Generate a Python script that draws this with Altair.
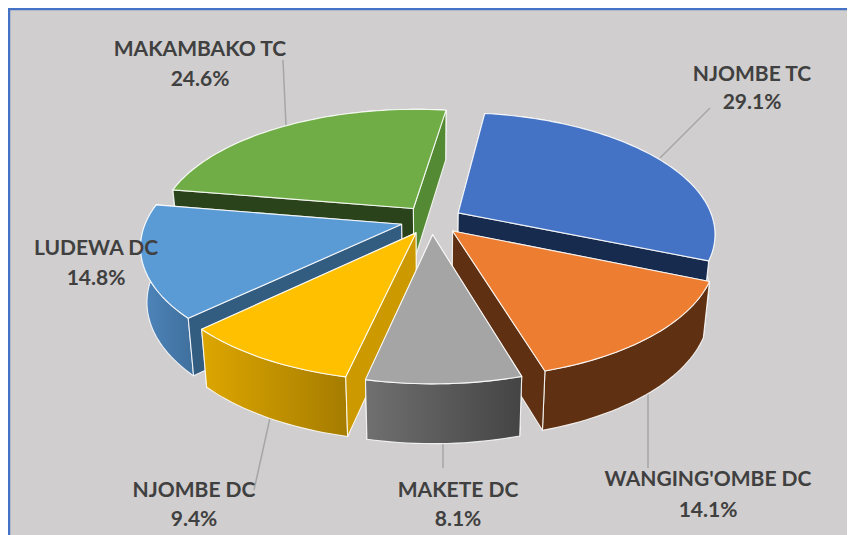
import math
import altair as alt
import pandas as pd

# ---- data ----
names = ["NJOMBE TC", "WANGING'OMBE DC", "MAKETE DC", "NJOMBE DC", "LUDEWA DC", "MAKAMBAKO TC"]
shares = [29.1, 14.1, 8.1, 9.4, 14.8, 24.6]
top_colors = ["#4472C4", "#ED7D31", "#A5A5A5", "#FFC000", "#5B9BD5", "#70AD47"]
outer_from = ["#3B64AC", "#5F3112", "#707070", "#DDA600", "#4F86BD", "#5C9238"]
outer_to = ["#2F5597", "#5F3112", "#444444", "#A57C00", "#3F6F9C", "#4A7A2C"]
start_wall = ["#172B4F", "#5F3112", "#5A5A5A", "#CC9A00", "#335C81", "#2B431A"]
end_wall = ["#172B4F", "#5F3112", "#5A5A5A", "#CC9A00", "#335C81", "#548A34"]

label_x = [752, 708, 458, 194, 96, 200]
label_y1 = [75, 480, 491, 491, 249, 50]
label_y2 = [103, 511, 520, 520, 279, 80]

leader_x1 = [710, 648, 443, 270, 283]
leader_y1 = [108, 392, 441, 418, 60]
leader_x2 = [660, 648, 443, 254, 286]
leader_y2 = [158, 468, 468, 490, 126]

# ---- 3-D pie layout (page pixels) ----
OFF = 8
CX, CY = 431.5 - OFF, 220 - OFF
A, B, K = 255, 119, 0.165
EXPLODE, DEPTH, SHRINK = 0.122, 54, 0.022
THETA0 = 8.0
STEP = 1.5


def project(u, v):
    p = 1 / (1 - K * v)
    return CX + A * u * p, CY + B * v * p, p


def down(pt_uv):
    x, y, p = project(*pt_uv)
    return CX + (x - CX) * (1 - SHRINK), y + DEPTH * math.sqrt(p)


def up(pt_uv):
    return project(*pt_uv)[:2]


def poly(points):
    pts = [list(map(float, p)) for p in points]
    pts.append(pts[0])
    return {"type": "Feature", "properties": {}, "geometry": {"type": "Polygon", "coordinates": [pts]}}


def shape(points, fill):
    return alt.Chart(alt.Data(values=[poly(points)])).mark_geoshape(
        fill=fill, stroke="white", strokeWidth=1.1, strokeOpacity=0.85, strokeJoin="round"
    ).project(type="identity", scale=1, translate=[0, 0])


def grad(c0, c1):
    return alt.Gradient(
        gradient="linear", x1=0, x2=1, y1=0, y2=0,
        stops=[alt.GradientStop(color=c0, offset=0), alt.GradientStop(color=c1, offset=1)],
    )


slices = []
t = THETA0
total = sum(shares)
for i, s in enumerate(shares):
    span = s / total * 360
    slices.append((i, t, t + span))
    t += span


def slice_layers(i, a0, a1):
    mid = math.radians((a0 + a1) / 2)
    ox, oy = EXPLODE * math.sin(mid), -EXPLODE * math.cos(mid)
    n = max(2, int((a1 - a0) / STEP))
    rim = []
    for j in range(n + 1):
        a = math.radians(a0 + (a1 - a0) * j / n)
        rim.append((ox + math.sin(a), oy - math.cos(a)))
    apex = (ox, oy)
    top = [up(apex)] + [up(q) for q in rim]
    centre = (sum(p[0] for p in top) / len(top), sum(p[1] for p in top) / len(top))

    def wall(q, colour):
        a, b = up(apex), up(q)
        pts = [a, b, down(q), down(apex)]
        bx, by = b[0] - a[0], b[1] - a[1]
        side_down = bx * 1
        side_in = bx * (centre[1] - a[1]) - by * (centre[0] - a[0])
        return (side_down * side_in < 0), shape(pts, colour)

    outer = shape([up(q) for q in rim] + [down(q) for q in reversed(rim)], grad(outer_from[i], outer_to[i]))
    w0 = wall(rim[0], start_wall[i])
    w1 = wall(rim[-1], end_wall[i])
    out = [w[1] for w in (w0, w1) if not w[0]]
    out.append(outer)
    out += [w[1] for w in (w0, w1) if w[0]]
    out.append(shape(top, top_colors[i]))
    return out


def mid_depth(sl):
    return -math.cos(math.radians((sl[1] + sl[2]) / 2))


layers = []
frame = alt.Chart(pd.DataFrame({"a": [0]})).mark_rect(
    fill="#D0CECE", stroke="#4472C4", strokeWidth=2.5
).encode(x=alt.value(1), x2=alt.value(842), y=alt.value(1), y2=alt.value(535))
layers.append(frame)

leaders = pd.DataFrame({
    "x": [v - OFF for v in leader_x1], "x2": [v - OFF for v in leader_x2],
    "y": [v - OFF for v in leader_y1], "y2": [v - OFF for v in leader_y2],
})
layers.append(
    alt.Chart(leaders).mark_rule(color="#A6A6A6", strokeWidth=1.5).encode(
        x=alt.X("x:Q", scale=None, axis=None), x2="x2:Q",
        y=alt.Y("y:Q", scale=None, axis=None), y2="y2:Q",
    )
)

for sl in sorted(slices, key=mid_depth):
    layers += slice_layers(*sl)

rows = []
for i, n in enumerate(names):
    rows.append({"x": label_x[i] - OFF, "y": label_y1[i] - OFF, "t": n})
    rows.append({"x": label_x[i] - OFF, "y": label_y2[i] - OFF, "t": f"{shares[i]:.1f}%"})
layers.append(
    alt.Chart(pd.DataFrame(rows)).mark_text(
        font="Lato", fontWeight="bold", fontSize=21, color="#404040", align="center", baseline="middle"
    ).encode(
        x=alt.X("x:Q", scale=None, axis=None),
        y=alt.Y("y:Q", scale=None, axis=None),
        text="t:N",
    )
)

chart = alt.layer(*layers).properties(
    width=839, height=527, padding=0, background="#FFFFFF", autosize="none"
).configure_view(stroke=None)

chart.save("out.html", embed_options={"renderer": "svg", "actions": False})
